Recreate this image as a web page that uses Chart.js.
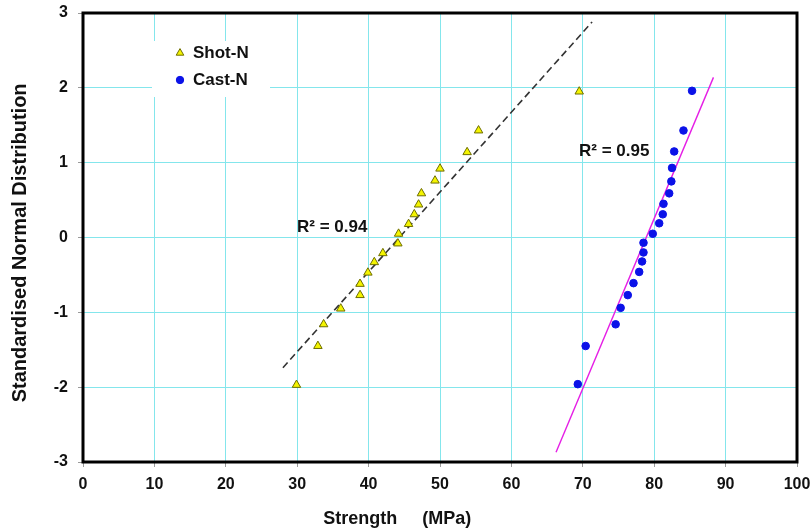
<!DOCTYPE html>
<html>
<head>
<meta charset="utf-8">
<script src="https://cdn.jsdelivr.net/npm/chart.js@4/dist/chart.umd.min.js"></script>
<style>
  html, body { margin: 0; padding: 0; background: #ffffff; }
  #wrap { width: 812px; height: 531px; }
</style>
</head>
<body>
<div id="wrap"><canvas id="chart" width="812" height="531"></canvas></div>
<script>
// Strength (MPa) against standardised normal score, one point per specimen
const shotStrength = [29.9, 32.9, 33.7, 36.1, 38.8, 38.8, 39.9, 40.8, 42.0, 44.1, 44.2, 45.6, 46.4, 47.0, 47.4, 49.3, 50.0, 53.8, 55.4, 69.5];
const shotScore    = [-1.97, -1.45, -1.16, -0.95, -0.77, -0.62, -0.47, -0.33, -0.21, -0.08, 0.05, 0.18, 0.31, 0.44, 0.59, 0.76, 0.92, 1.14, 1.43, 1.95];
const castStrength = [69.3, 70.4, 74.6, 75.3, 76.3, 77.1, 77.9, 78.3, 78.5, 78.5, 79.8, 80.7, 81.2, 81.3, 82.1, 82.4, 82.5, 82.8, 84.1, 85.3];
const castScore    = [-1.96, -1.45, -1.16, -0.94, -0.77, -0.61, -0.46, -0.32, -0.20, -0.07, 0.05, 0.19, 0.31, 0.45, 0.59, 0.75, 0.93, 1.15, 1.43, 1.96];

// Linear trend lines (end points)
const shotFitStrength = [28.0, 71.3];
const shotFitScore    = [-1.74, 2.88];
const castFitStrength = [66.25, 88.3];
const castFitScore    = [-2.87, 2.14];

const seriesNames = ['Shot-N', 'Cast-N'];
const fitLabels = ['R\u00B2 = 0.94', 'R\u00B2 = 0.95'];
const xTicks = [0, 10, 20, 30, 40, 50, 60, 70, 80, 90, 100];
const yTicks = [-3, -2, -1, 0, 1, 2, 3];
const xTitle = 'Strength     (MPa)';
const yTitle = 'Standardised Normal Distribution';

const toPoints = (xs, ys) => xs.map((x, i) => ({ x: x, y: ys[i] }));

const FONT = '"Liberation Sans", Arial, sans-serif';
const GRID = '#84e6ec';

// Where the R² annotations sit, in data units
const fitLabelAnchors = [
  { x: 34.9, y: 0.14 },
  { x: 74.4, y: 1.15 }
];

const decorations = {
  id: 'decorations',
  afterDatasetsDraw(chart) {
    const { ctx, chartArea: a, scales } = chart;
    ctx.save();
    // R² annotations
    ctx.fillStyle = '#111111';
    ctx.font = 'bold 17px ' + FONT;
    ctx.textAlign = 'center';
    ctx.textBaseline = 'middle';
    fitLabels.forEach((t, i) => {
      const p = fitLabelAnchors[i];
      ctx.fillText(t, scales.x.getPixelForValue(p.x), scales.y.getPixelForValue(p.y));
    });

    // Legend box inside the plot
    const bx = a.left + 69, by = a.top + 28;
    ctx.fillStyle = '#ffffff';
    ctx.fillRect(bx, by, 118, 56);
    [0, 1].forEach(i => {
      const ds = chart.data.datasets[i];
      const cy = by + 12 + i * 27;
      ctx.fillStyle = ds.backgroundColor;
      ctx.strokeStyle = ds.borderColor;
      ctx.lineWidth = ds.borderWidth;
      ctx.beginPath();
      if (ds.pointStyle === 'triangle') {
        const r = 4.4;
        ctx.moveTo(bx + 28, cy - r);
        ctx.lineTo(bx + 28 + r * 0.866, cy + r * 0.5);
        ctx.lineTo(bx + 28 - r * 0.866, cy + r * 0.5);
        ctx.closePath();
      } else {
        ctx.arc(bx + 28, cy, 3.7, 0, Math.PI * 2);
      }
      ctx.fill();
      ctx.stroke();
      ctx.fillStyle = '#111111';
      ctx.font = 'bold 17px ' + FONT;
      ctx.textAlign = 'left';
      ctx.fillText(ds.label, bx + 41, cy);
    });
    ctx.restore();
  },
  afterDraw(chart) {
    const { ctx, chartArea: a } = chart;
    ctx.save();
    // Heavy frame round the plot
    ctx.strokeStyle = '#000000';
    ctx.lineWidth = 3;
    ctx.strokeRect(a.left, a.top, a.right - a.left, a.bottom - a.top);
    // Axis titles
    ctx.fillStyle = '#111111';
    ctx.textAlign = 'center';
    ctx.textBaseline = 'middle';
    ctx.font = 'bold 18px ' + FONT;
    ctx.fillText(xTitle, a.left + (a.right - a.left) * 0.44, 519);
    ctx.translate(20, a.top + (a.bottom - a.top) * 0.512);
    ctx.rotate(-Math.PI / 2);
    ctx.font = 'bold 20px ' + FONT;
    ctx.fillText(yTitle, 0, 0);
    ctx.restore();
  }
};

new Chart(document.getElementById('chart'), {
  type: 'scatter',
  data: {
    datasets: [
      {
        label: seriesNames[0],
        data: toPoints(shotStrength, shotScore),
        pointStyle: 'triangle',
        pointRadius: 4.9,
        backgroundColor: '#f4f400',
        borderColor: '#6e6e00',
        borderWidth: 1
      },
      {
        label: seriesNames[1],
        data: toPoints(castStrength, castScore),
        pointStyle: 'circle',
        pointRadius: 3.8,
        backgroundColor: '#0b12e8',
        borderColor: '#0b12e8',
        borderWidth: 1
      },
      {
        label: 'Shot-N trend',
        data: toPoints(shotFitStrength, shotFitScore),
        showLine: true,
        pointRadius: 0,
        borderColor: '#333333',
        borderWidth: 1.6,
        borderDash: [7, 4]
      },
      {
        label: 'Cast-N trend',
        data: toPoints(castFitStrength, castFitScore),
        showLine: true,
        pointRadius: 0,
        borderColor: '#e51ee5',
        borderWidth: 1.4
      }
    ]
  },
  options: {
    responsive: false,
    animation: false,
    events: [],
    layout: { padding: { top: 13, right: 15, left: 0, bottom: 0 } },
    plugins: {
      legend: { display: false },
      tooltip: { enabled: false }
    },
    scales: {
      x: {
        type: 'linear',
        min: 0,
        max: 100,
        afterBuildTicks: s => { s.ticks = xTicks.map(v => ({ value: v })); },
        afterFit: s => { s.height = 69; s.paddingLeft = 0; s.paddingRight = 0; },
        border: { display: false },
        grid: { color: GRID, lineWidth: 1, tickLength: 5, tickColor: '#9a9a9a' },
        ticks: { color: '#111111', padding: 8, font: { family: FONT, size: 16, weight: 'bold' } }
      },
      y: {
        type: 'linear',
        min: -3,
        max: 3,
        afterBuildTicks: s => { s.ticks = yTicks.map(v => ({ value: v })); },
        afterFit: s => { s.width = 83; s.paddingTop = 0; s.paddingBottom = 0; },
        border: { display: false },
        grid: { color: GRID, lineWidth: 1, tickLength: 5, tickColor: '#9a9a9a' },
        ticks: { color: '#111111', padding: 10, font: { family: FONT, size: 16, weight: 'bold' } }
      }
    }
  },
  plugins: [decorations]
});
</script>
</body>
</html>
